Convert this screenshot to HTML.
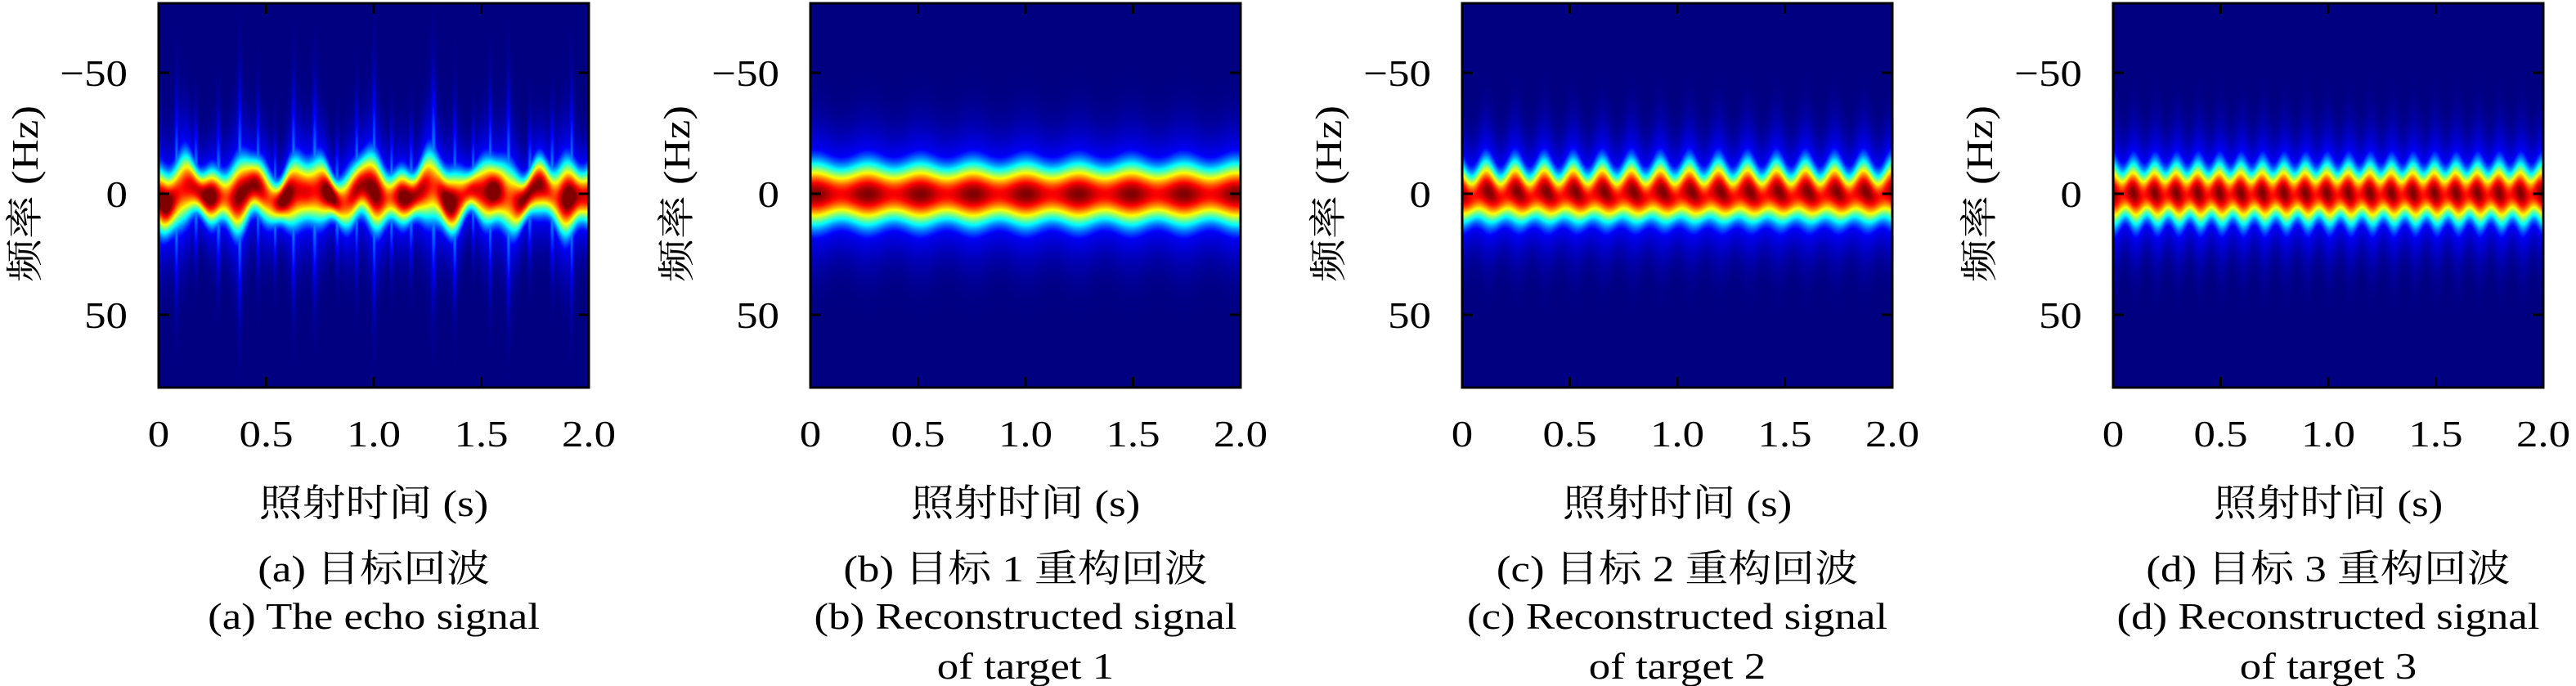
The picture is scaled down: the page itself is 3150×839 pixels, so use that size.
<!DOCTYPE html>
<html><head><meta charset="utf-8">
<style>
html,body{margin:0;padding:0;background:#fff;width:3150px;height:839px;overflow:hidden;}
canvas{position:absolute;top:4px;}
svg{position:absolute;left:0;top:0;}
text{font-family:"Liberation Serif","Noto Serif CJK SC",serif;font-size:46px;fill:#000;}
</style></head><body>
<canvas id="c0" width="526" height="470" style="left:194px"></canvas>
<canvas id="c1" width="526" height="470" style="left:991px"></canvas>
<canvas id="c2" width="526" height="470" style="left:1788px"></canvas>
<canvas id="c3" width="526" height="470" style="left:2584px"></canvas>
<svg id="s" width="3150" height="839" xmlns="http://www.w3.org/2000/svg"></svg>
<script>
function jet(v){v=Math.max(0,Math.min(1,v));
 const c=x=>Math.max(0,Math.min(1,x));
 return [c(1.5-Math.abs(4*v-3))*255,c(1.5-Math.abs(4*v-2))*255,c(1.5-Math.abs(4*v-1))*255];}
const P=2*Math.PI;
function val(p,t,f){
 let c=0,s=11,a=1,tail=0;
 if(p==0){
  c=2.5*Math.sin(P*3.7*t+1)+1.5*Math.sin(P*6.1*t);
  s=11+2*Math.sin(P*3.3*t)+1.5*Math.sin(P*7.9*t+2);
  a=0.95+0.1*Math.sin(P*5.3*t+0.5)+0.05*Math.sin(P*9.1*t);
  let sp=Math.pow(0.5+0.5*Math.cos(P*11*t+0.8*Math.sin(P*2*t)),6);
  tail=0.32*sp*Math.exp(-Math.pow((f-c)/(s*2.6),2));
 } else if(p==1){
  let b=0.5+0.5*Math.cos(P*(t-0.02)/0.245);
  s=11+1.8*b; a=0.88+0.12*b;
 } else if(p==2){
  let ph=P*t/0.135;
  c=1.5*Math.sin(ph); s=11+1.5*Math.cos(ph+1); a=0.93+0.07*Math.cos(ph+0.6);
 } else {
  let ph=P*t/0.1;
  c=0.8*Math.sin(ph); s=11+1.5*Math.cos(ph); a=0.93+0.07*Math.cos(ph+0.5);
 }
 let core=a*Math.exp(-Math.pow((f-c)/s,2));
 let halo=0.2*Math.exp(-Math.pow((f-c)/(s*1.9),2));
 return Math.max(core,tail,halo);
}
for(let p=0;p<4;p++){
 const cv=document.getElementById('c'+p),ctx=cv.getContext('2d');
 const W=cv.width,H=cv.height,img=ctx.createImageData(W,H);
 for(let y=0;y<H;y++){const f=(y-233)/148*50;
  for(let x=0;x<W;x++){const t=x/W*2;const col=jet(val(p,t,f));
   const i=(y*W+x)*4;img.data[i]=col[0];img.data[i+1]=col[1];img.data[i+2]=col[2];img.data[i+3]=255;}}
 ctx.putImageData(img,0,0);
}
const Ls=[194,991,1788,2584],W=526,T=4,H=470;
const cap1=["(a) 目标回波","(b) 目标 1 重构回波","(c) 目标 2 重构回波","(d) 目标 3 重构回波"];
const cap2=[["(a) The echo signal"],["(b) Reconstructed signal","of target 1"],["(c) Reconstructed signal","of target 2"],["(d) Reconstructed signal","of target 3"]];
function tx(x,y,str,anchor,rot){
 let tr=`translate(${x} ${y})`+(rot?' rotate(-90)':'')+' scale(1.15 1)';
 return `<text transform="${tr}" x="0" y="0" text-anchor="${anchor}">${str}</text>`;
}
let s='';
Ls.forEach((L,i)=>{
 s+=`<rect x="${L}" y="${T}" width="${W}" height="${H}" fill="none" stroke="#000" stroke-width="3"/>`;
 [89,237,385].forEach((y,k)=>{
  s+=`<line x1="${L}" y1="${y}" x2="${L+13}" y2="${y}" stroke="#000" stroke-width="3"/>`;
  s+=`<line x1="${L+W-13}" y1="${y}" x2="${L+W}" y2="${y}" stroke="#000" stroke-width="3"/>`;
  s+=tx(L-38,y+16,["−50","0","50"][k],"end");
 });
 ["0","0.5","1.0","1.5","2.0"].forEach((lb,k)=>{
  const x=L+W*k/4;
  if(k>0&&k<4){s+=`<line x1="${x}" y1="${T}" x2="${x}" y2="${T+13}" stroke="#000" stroke-width="3"/>`;
   s+=`<line x1="${x}" y1="${T+H-13}" x2="${x}" y2="${T+H}" stroke="#000" stroke-width="3"/>`;}
  s+=tx(x,546,lb,"middle");
 });
 const cx=L+W/2;
 s+=tx(L-148,237,"频率 (Hz)","middle",true);
 s+=tx(cx,631,"照射时间 (s)","middle");
 s+=tx(cx,711,cap1[i],"middle");
 cap2[i].forEach((t,j)=>{s+=tx(cx,769+j*61,t,"middle");});
});
document.getElementById('s').innerHTML=s;
</script>
</body></html>
